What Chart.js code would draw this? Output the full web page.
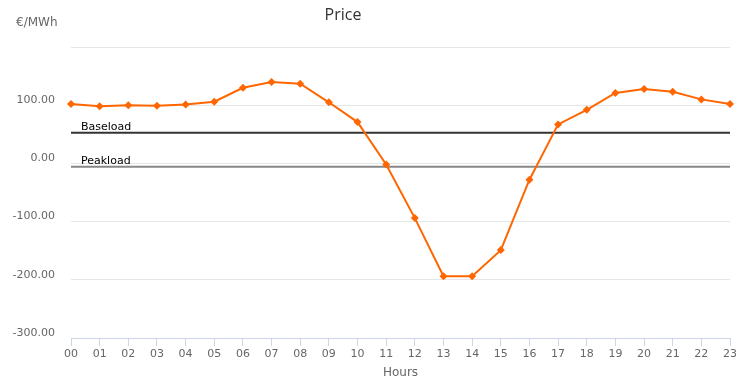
<!DOCTYPE html>
<html>
<head>
<meta charset="utf-8">
<script src="https://cdn.jsdelivr.net/npm/chart.js@4/dist/chart.umd.min.js"></script>
<style>
  html, body { margin: 0; padding: 0; background: #fff; }
  #wrap { width: 751px; height: 385px; position: relative; }
</style>
</head>
<body>
<div id="wrap"><canvas id="priceChart" width="751" height="385"></canvas></div>
<script>
'use strict';

// hours of the day
let hours = ['00','01','02','03','04','05','06','07','08','09','10','11',
             '12','13','14','15','16','17','18','19','20','21','22','23']
// price in €/MWh
let price = [102, 98, 100, 99, 101, 106, 130, 140, 137, 105, 71, -2,
             -94, -194, -194, -149, -28, 67, 92, 121, 128, 123, 110, 102]
let baseload = 52.6
let peakload = -5.8
let yTicks = [-300, -200, -100, 0, 100, 200]

Chart.defaults.font.family = '"DejaVu Sans", Verdana, sans-serif'
Chart.defaults.font.size = 11
Chart.defaults.color = '#666666'

let labelPlugin = {
    id: 'labels',
    afterDatasetsDraw: function (chart) {
        let ctx = chart.ctx
        let y = chart.scales.y
        let left = chart.chartArea.left
        ctx.save()
        ctx.fillStyle = '#000000'
        ctx.font = '11px "DejaVu Sans", Verdana, sans-serif'
        ctx.textAlign = 'left'
        ctx.textBaseline = 'alphabetic'
        ctx.fillText('Baseload', left + 10, y.getPixelForValue(baseload) - 3)
        ctx.fillText('Peakload', left + 10, y.getPixelForValue(peakload) - 3)

        ctx.fillStyle = '#333333'
        ctx.font = '16px "Open Sans", sans-serif'
        ctx.textAlign = 'center'
        ctx.textBaseline = 'middle'
        ctx.fillText('Price', 343, 15)

        ctx.fillStyle = '#666666'
        ctx.font = '12px "DejaVu Sans", Verdana, sans-serif'
        ctx.textAlign = 'left'
        ctx.fillText('€/MWh', 16, 23)
        ctx.restore()
    }
}

let data_1 = {
    labels: hours,
    datasets: [
        {
            label: 'Price',
            data: price,
            borderColor: '#ff6600',
            backgroundColor: '#ff6600',
            borderWidth: 2,
            pointStyle: 'rectRot',
            pointRadius: 4,
            pointBorderWidth: 0,
            tension: 0,
            order: 0
        },
        {
            label: 'Baseload',
            data: hours.map(function () { return baseload }),
            borderColor: '#333333',
            borderWidth: 2,
            pointRadius: 0,
            order: 1
        },
        {
            label: 'Peakload',
            data: hours.map(function () { return peakload }),
            borderColor: '#888888',
            borderWidth: 2,
            pointRadius: 0,
            order: 2
        }
    ]
}

let options = {
    responsive: false,
    animation: false,
    layout: { padding: { top: 47, right: 21, left: 0, bottom: 0 } },
    plugins: {
        legend: { display: false },
        tooltip: { enabled: false },
        title: { display: false }
    },
    scales: {
        x: {
            offset: false,
            afterFit: function (scale) { scale.height = 47 },
            grid: {
                drawOnChartArea: false,
                drawTicks: true,
                tickLength: 8,
                color: '#ccd6eb'
            },
            border: { color: '#ccd6eb', width: 1 },
            ticks: { color: '#666666', padding: 2, maxRotation: 0, autoSkip: false },
            title: {
                display: true,
                text: 'Hours',
                color: '#666666',
                font: { size: 12 },
                padding: { top: 4, bottom: 5 }
            }
        },
        y: {
            min: -300,
            max: 200,
            afterFit: function (scale) { scale.width = 71 },
            afterBuildTicks: function (scale) {
                scale.ticks = yTicks.map(function (v) { return { value: v } })
            },
            grid: { color: '#e6e6e6', drawTicks: false },
            border: { display: false },
            ticks: {
                color: '#666666',
                padding: 16,
                labelOffset: -5,
                callback: function (v) { return v === 200 ? '' : v.toFixed(2) }
            }
        }
    }
}

let ctx = document.getElementById('priceChart').getContext('2d')
new Chart(ctx, { type: 'line', data: data_1, options: options, plugins: [labelPlugin] })
</script>
</body>
</html>
